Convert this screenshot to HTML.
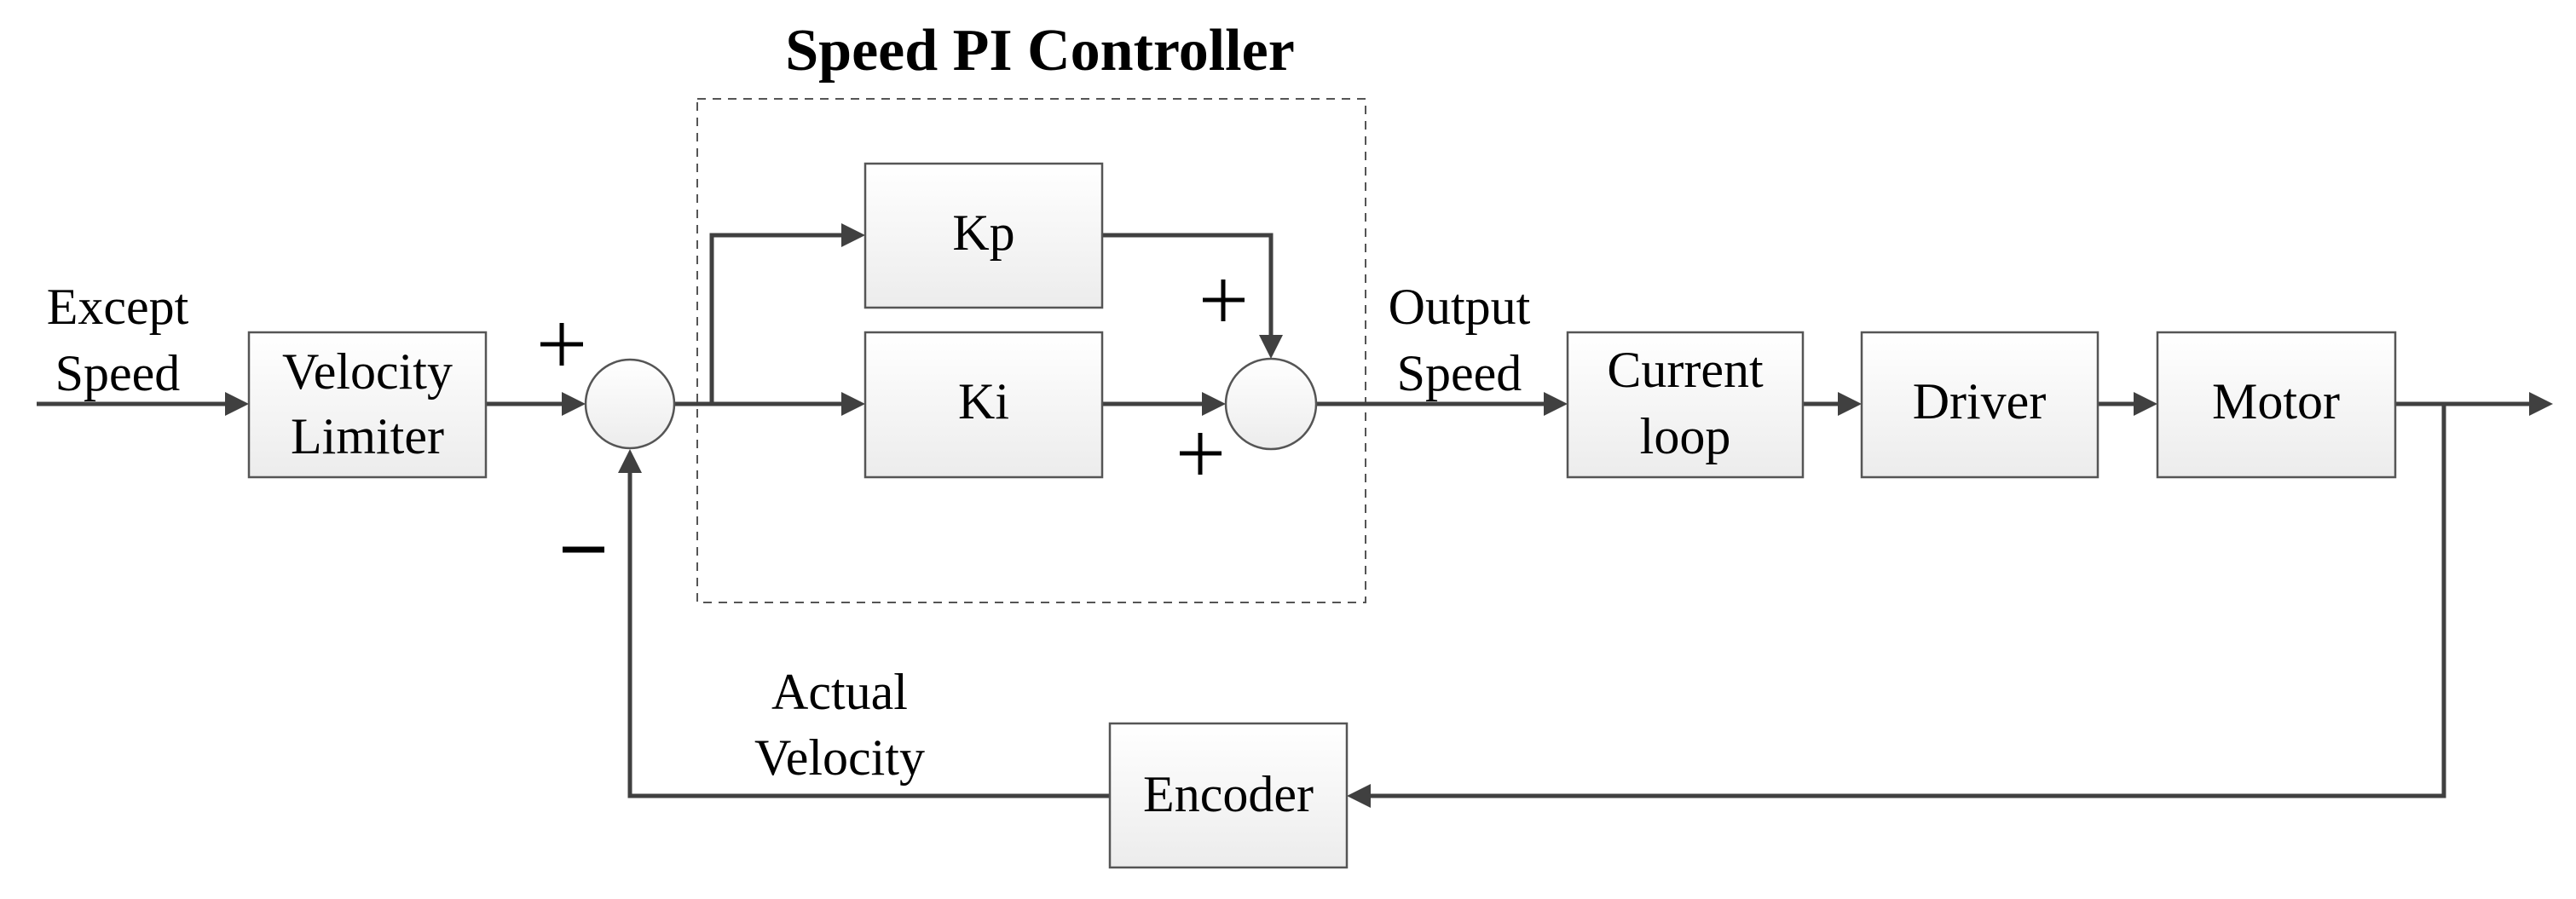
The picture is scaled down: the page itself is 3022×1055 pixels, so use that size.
<!DOCTYPE html>
<html><head><meta charset="utf-8"><style>
html,body{margin:0;padding:0;background:#fff;}
svg{display:block;}
text{font-family:"Liberation Serif",serif;fill:#000;}
</style></head><body>
<svg width="3022" height="1055" viewBox="0 0 3022 1055" xmlns="http://www.w3.org/2000/svg">
<defs>
<linearGradient id="g" x1="0" y1="0" x2="0" y2="1">
<stop offset="0" stop-color="#ffffff"/><stop offset="1" stop-color="#ececec"/>
</linearGradient>
</defs>
<rect x="818" y="116" width="784" height="591" fill="none" stroke="#555" stroke-width="2" stroke-dasharray="10,8"/>
<text x="1220" y="82" font-size="70" font-weight="bold" text-anchor="middle">Speed PI Controller</text>

<g stroke="#404040" stroke-width="5" fill="none">
<line x1="43" y1="474" x2="270" y2="474"/>
<line x1="570" y1="474" x2="665" y2="474"/>
<line x1="791" y1="474" x2="990" y2="474"/>
<polyline points="835,474 835,276 990,276"/>
<polyline points="1293,276 1491,276 1491,396"/>
<line x1="1293" y1="474" x2="1412" y2="474"/>
<line x1="1544" y1="474" x2="1815" y2="474"/>
<line x1="2115" y1="474" x2="2160" y2="474"/>
<line x1="2461" y1="474" x2="2507" y2="474"/>
<line x1="2810" y1="474" x2="2970" y2="474"/>
<polyline points="2867,474 2867,934 1605,934"/>
<polyline points="1302,934 739,934 739,552"/>
</g>
<g fill="#404040">
<polygon points="292,474 264,460 264,488"/>
<polygon points="687,474 659,460 659,488"/>
<polygon points="1015,474 987,460 987,488"/>
<polygon points="1015,276 987,262 987,290"/>
<polygon points="1438,474 1410,460 1410,488"/>
<polygon points="1491,421 1477,393 1505,393"/>
<polygon points="1839,474 1811,460 1811,488"/>
<polygon points="2184,474 2156,460 2156,488"/>
<polygon points="2531,474 2503,460 2503,488"/>
<polygon points="2995,474 2967,460 2967,488"/>
<polygon points="1580,934 1608,920 1608,948"/>
<polygon points="739,527 725,555 753,555"/>
</g>

<g stroke="#555" stroke-width="2.5" fill="url(#g)">
<rect x="292" y="390" width="278" height="170"/>
<rect x="1015" y="192" width="278" height="169"/>
<rect x="1015" y="390" width="278" height="170"/>
<rect x="1839" y="390" width="276" height="170"/>
<rect x="2184" y="390" width="277" height="170"/>
<rect x="2531" y="390" width="279" height="170"/>
<rect x="1302" y="849" width="278" height="169"/>
<circle cx="739" cy="474" r="52"/>
<circle cx="1491" cy="474" r="53"/>
</g>

<g font-size="60">
<text x="138" y="380" text-anchor="middle">Except</text>
<text x="138" y="458" text-anchor="middle">Speed</text>
<text x="431" y="456" text-anchor="middle">Velocity</text>
<text x="431" y="532" text-anchor="middle">Limiter</text>
<text x="1154" y="293" text-anchor="middle">Kp</text>
<text x="1154" y="491" text-anchor="middle">Ki</text>
<text x="1712" y="380" text-anchor="middle">Output</text>
<text x="1712" y="458" text-anchor="middle">Speed</text>
<text x="1977" y="454" text-anchor="middle">Current</text>
<text x="1977" y="532" text-anchor="middle">loop</text>
<text x="2322" y="491" text-anchor="middle">Driver</text>
<text x="2670" y="491" text-anchor="middle">Motor</text>
<text x="1441" y="952" text-anchor="middle">Encoder</text>
<text x="985" y="832" text-anchor="middle">Actual</text>
<text x="985" y="909" text-anchor="middle">Velocity</text>
</g>
<g stroke="#000" stroke-width="5">
<line x1="634" y1="404" x2="684" y2="404"/><line x1="659" y1="379" x2="659" y2="429"/>
<line x1="1411" y1="352" x2="1460" y2="352"/><line x1="1435" y1="328" x2="1435" y2="377"/>
<line x1="1384" y1="532" x2="1433" y2="532"/><line x1="1408" y1="508" x2="1408" y2="557"/>
<line x1="660" y1="645" x2="709" y2="645" stroke-width="7"/>
</g>
</svg>
</body></html>
